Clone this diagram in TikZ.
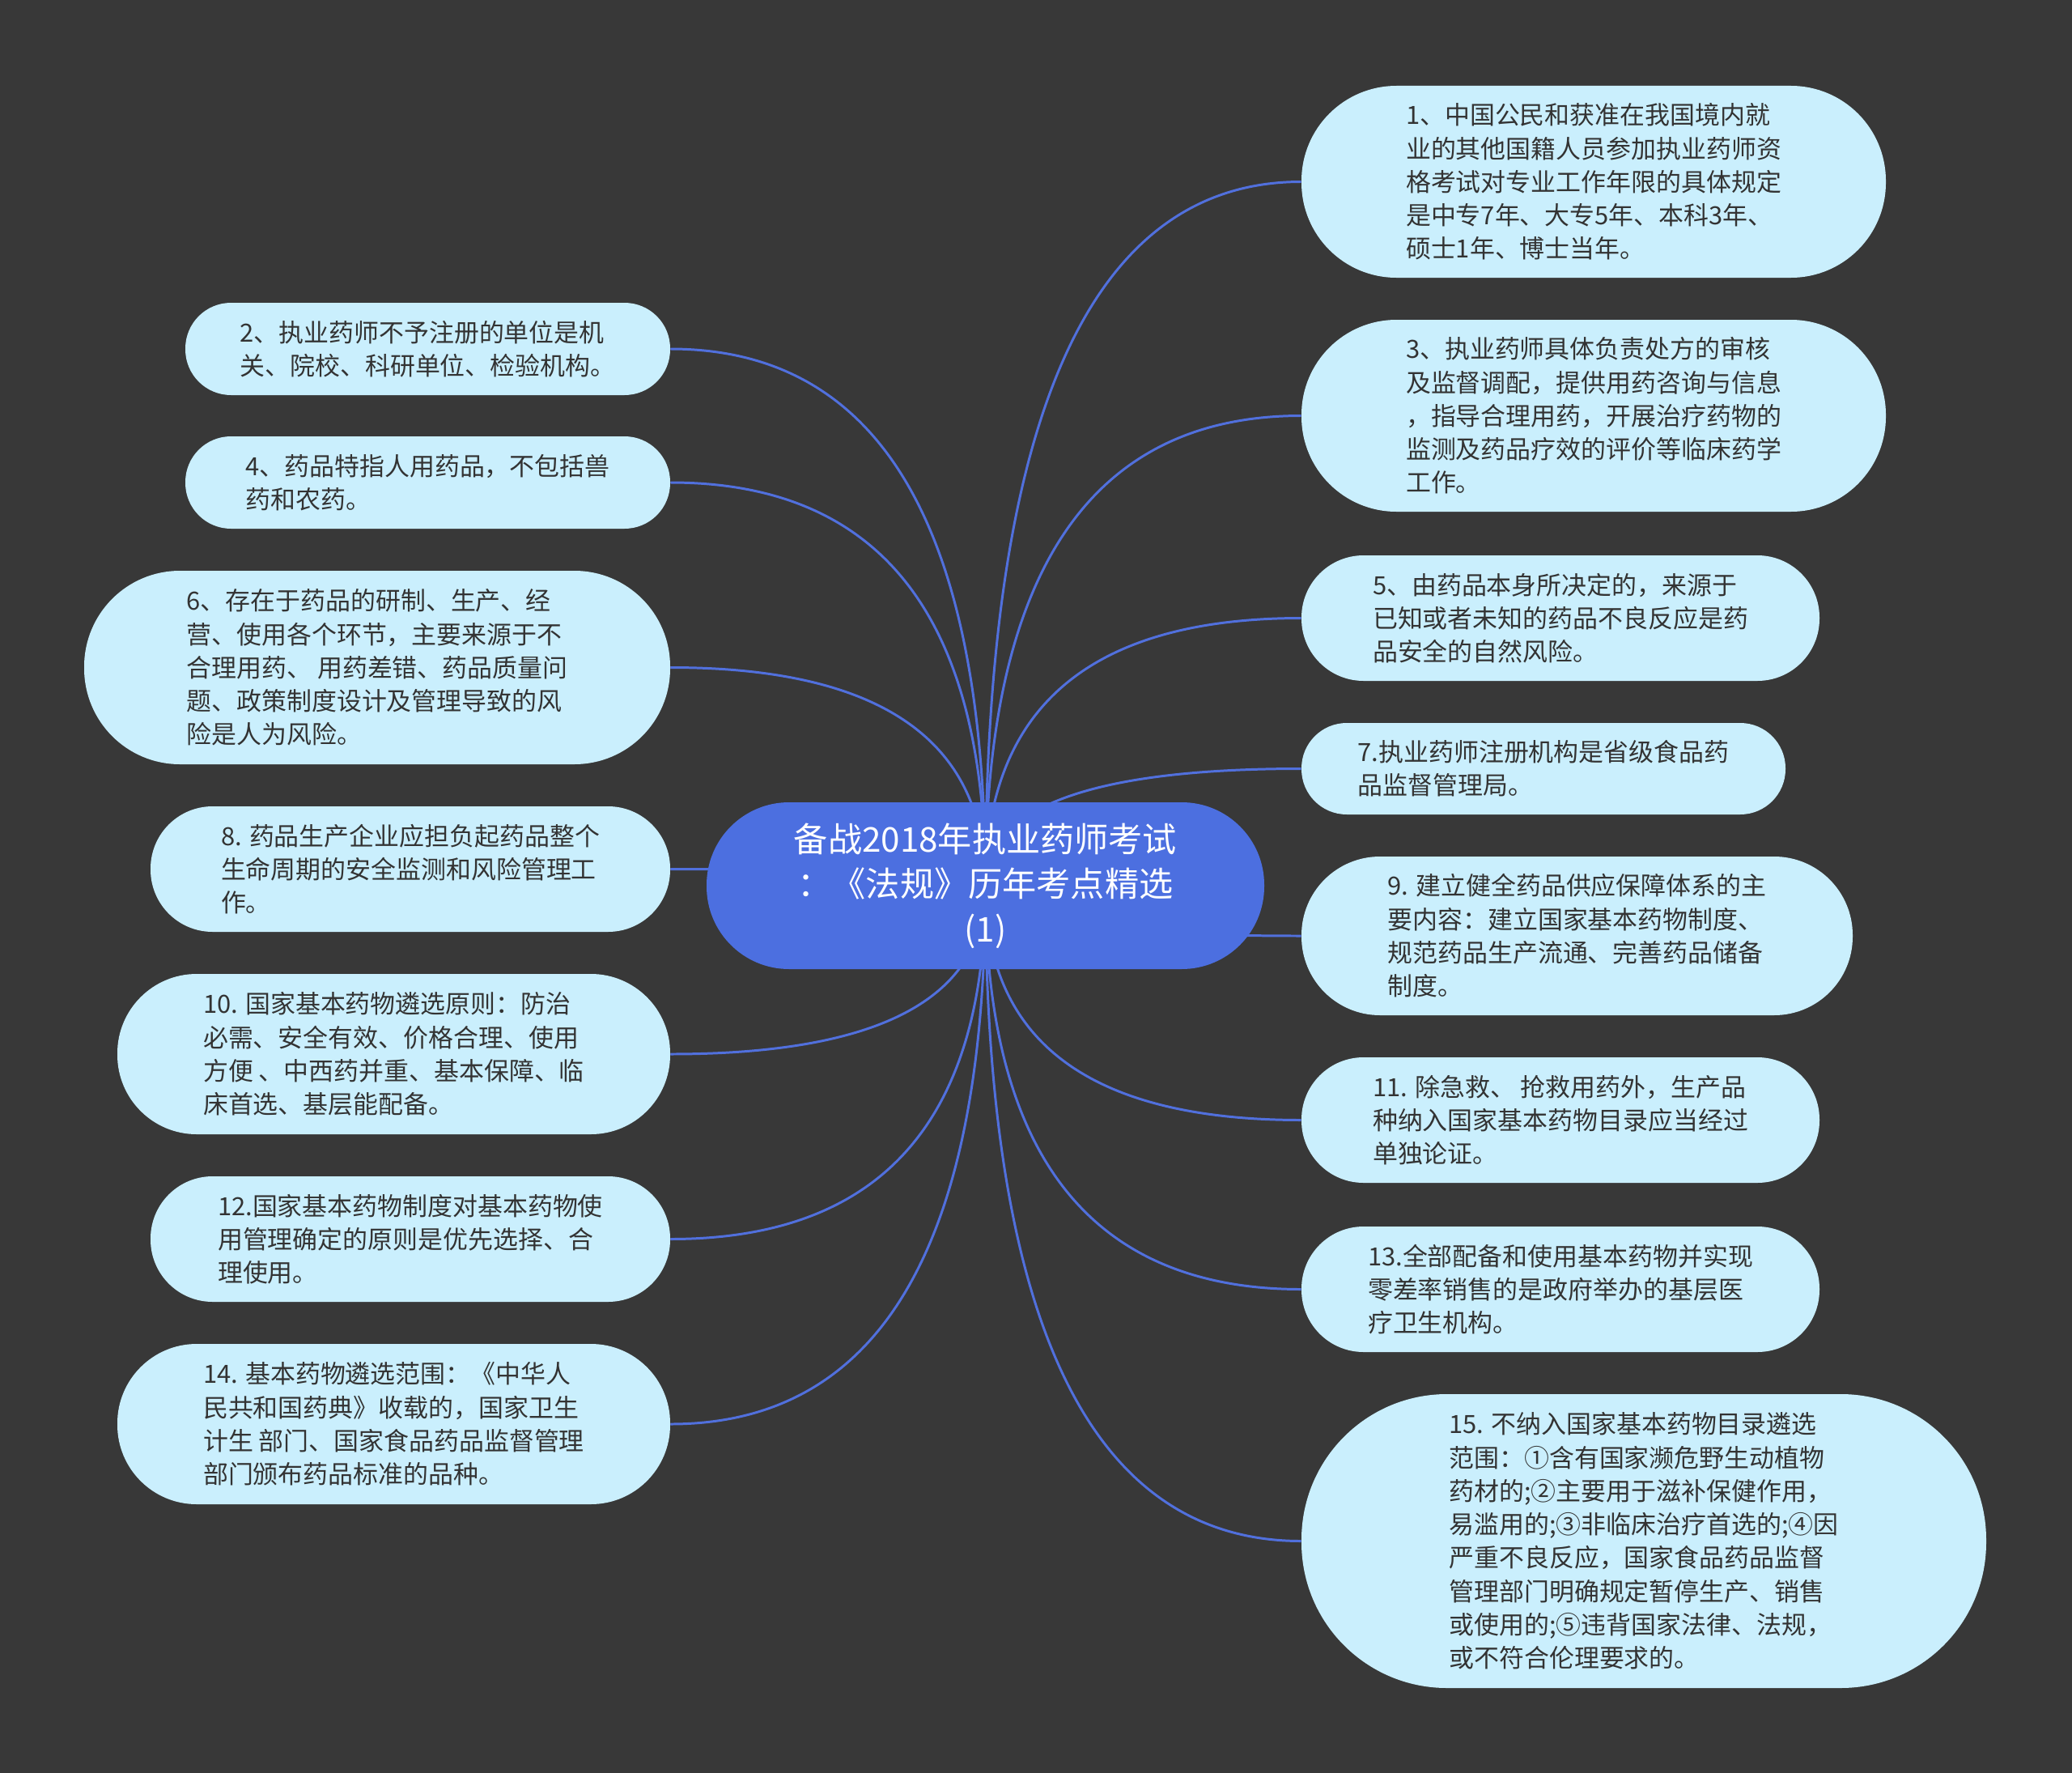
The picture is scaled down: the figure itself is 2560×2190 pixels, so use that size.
\documentclass[tikz,border=0pt]{standalone}
\usepackage{fontspec}
\setmainfont{Noto Sans CJK SC}
\usepackage{xcolor}
\usepackage{tikz}
\usetikzlibrary{backgrounds, calc}
\definecolor{bgdark}{HTML}{383838}
\definecolor{leafblue}{HTML}{CAEFFD}
\definecolor{rootblue}{HTML}{4C6FE0}
\definecolor{linkblue}{HTML}{5170DD}
\definecolor{leaftext}{HTML}{333333}
\tikzset{
  % Nodi della mappa
  topic/.style={fill=rootblue,text=white,align=center,inner sep=0pt,
    font=\fontsize{24pt}{31.5pt}\selectfont},
  leaf/.style={fill=leafblue,text=leaftext,align=left,inner sep=0pt,
    font=\fontsize{17.6pt}{23.5pt}\selectfont},
  % Dimensioni: larghezza e altezza in pixel
  box size/.style 2 args={minimum width=#1*0.02cm,minimum height=#2*0.02cm,
    rounded corners=#2*0.0099cm},
  % Connessioni
  connect/.style={line width=1.7pt,linkblue}
}
\begin{document}
\begin{tikzpicture}[x=0.02cm,y=-0.02cm]
    \begin{scope}[on background layer]
      \fill[bgdark] (0,0) rectangle (2560,2190);
    \end{scope}
    \useasboundingbox (0,0) rectangle (2560,2190);
    \node[topic, box size={689}{206}] (root) at (1217.5,1094)
      {备战2018年执业药师考试\\：《法规》历年考点精选\\(1)};
    % lato destro
    \node[leaf, box size={722}{237}] (n1) at (1969,224.5)
      {1、中国公民和获准在我国境内就\\业的其他国籍人员参加执业药师资\\格考试对专业工作年限的具体规定\\是中专7年、大专5年、本科3年、\\硕士1年、博士当年。};
    \node[leaf, box size={722}{237}] (n3) at (1969,513.5)
      {3、执业药师具体负责处方的审核\\及监督调配，提供用药咨询与信息\\，指导合理用药，开展治疗药物的\\监测及药品疗效的评价等临床药学\\工作。};
    \node[leaf, box size={640}{155}] (n5) at (1928,763.5)
      {5、由药品本身所决定的，来源于\\已知或者未知的药品不良反应是药\\品安全的自然风险。};
    \node[leaf, box size={598}{113}] (n7) at (1907,949.5)
      {7.执业药师注册机构是省级食品药\\品监督管理局。};
    \node[leaf, box size={681}{196}] (n9) at (1948.5,1156)
      {9. 建立健全药品供应保障体系的主\\要内容：建立国家基本药物制度、\\规范药品生产流通、完善药品储备\\制度。};
    \node[leaf, box size={640}{155}] (n11) at (1928,1383.5)
      {11. 除急救、 抢救用药外，生产品\\种纳入国家基本药物目录应当经过\\单独论证。};
    \node[leaf, box size={640}{155}] (n13) at (1928,1592.5)
      {13.全部配备和使用基本药物并实现\\零差率销售的是政府举办的基层医\\疗卫生机构。};
    \node[leaf, box size={846}{363}] (n15) at (2031,1903.5)
      {15. 不纳入国家基本药物目录遴选\\范围：①含有国家濒危野生动植物\\药材的;②主要用于滋补保健作用，\\易滥用的;③非临床治疗首选的;④因\\严重不良反应，国家食品药品监督\\管理部门明确规定暂停生产、销售\\或使用的;⑤违背国家法律、法规，\\或不符合伦理要求的。};
    % lato sinistro
    \node[leaf, box size={599}{114}] (n2) at (528.5,431)
      {2、执业药师不予注册的单位是机\\关、院校、科研单位、检验机构。};
    \node[leaf, box size={599}{114}] (n4) at (528.5,596)
      {4、药品特指人用药品，不包括兽\\药和农药。};
    \node[leaf, box size={724}{239}] (n6) at (466,824.5)
      {6、存在于药品的研制、生产、经\\营、使用各个环节，主要来源于不\\合理用药、 用药差错、药品质量问\\题、政策制度设计及管理导致的风\\险是人为风险。};
    \node[leaf, box size={642}{155}] (n8) at (507,1073.5)
      {8. 药品生产企业应担负起药品整个\\生命周期的安全监测和风险管理工\\作。};
    \node[leaf, box size={683}{198}] (n10) at (486.5,1302)
      {10. 国家基本药物遴选原则：防治\\必需、安全有效、价格合理、使用\\方便 、中西药并重、基本保障、临\\床首选、基层能配备。};
    \node[leaf, box size={642}{155}] (n12) at (507,1530.5)
      {12.国家基本药物制度对基本药物使\\用管理确定的原则是优先选择、合\\理使用。};
    \node[leaf, box size={683}{198}] (n14) at (486.5,1759)
      {14. 基本药物遴选范围：《中华人\\民共和国药典》收载的，国家卫生\\计生 部门、国家食品药品监督管理\\部门颁布药品标准的品种。};
    \begin{scope}[on background layer]
      \foreach \n in {n1,n3,n5,n7,n9,n11,n13,n15}
        \draw[connect] (root.center)
          .. controls ($(root.center)!0.667!(root.center |- \n.west)$)
          and ($(\n.west)!0.667!(root.center |- \n.west)$) .. (\n.west);
      \foreach \n in {n2,n4,n6,n8,n10,n12,n14}
        \draw[connect] (root.center)
          .. controls ($(root.center)!0.667!(root.center |- \n.east)$)
          and ($(\n.east)!0.667!(root.center |- \n.east)$) .. (\n.east);
    \end{scope}
  \end{tikzpicture}
\end{document}
